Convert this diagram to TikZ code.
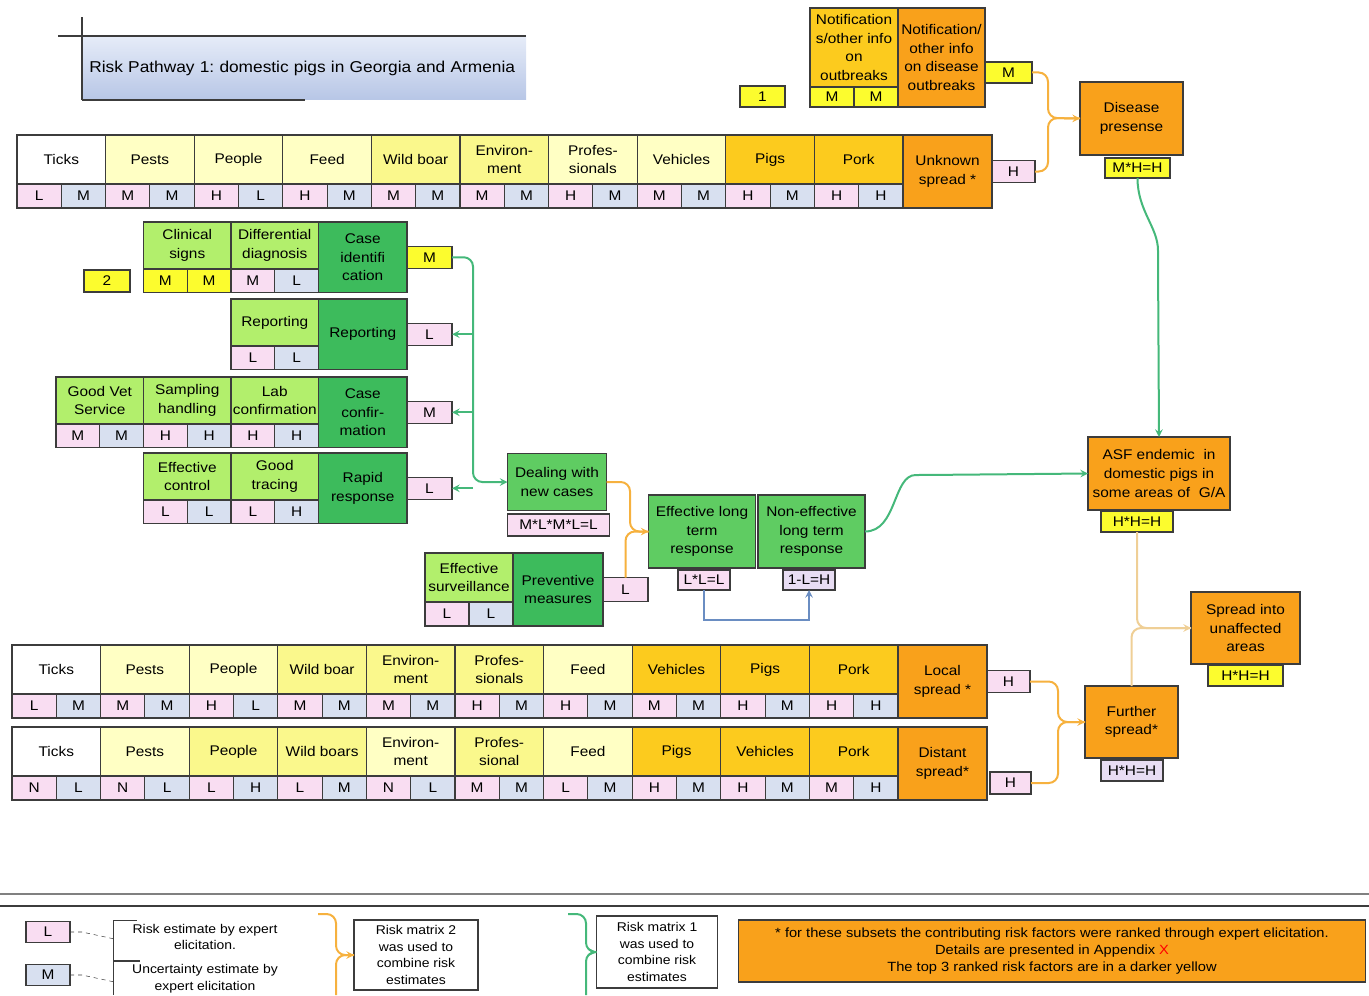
\documentclass[tikz,border=0pt]{standalone}
\usepackage{fontspec}
\setmainfont{Liberation Sans}[FakeStretch=1.1]
\usetikzlibrary{positioning,arrows.meta}
\frenchspacing

\definecolor{edge}{HTML}{3C3C3C}
\definecolor{paleyel}{HTML}{FFFFC4}
\definecolor{midyel}{HTML}{FAF88C}
\definecolor{goldyel}{HTML}{FCCB1E}
\definecolor{sorange}{HTML}{F9A11B}
\definecolor{brightyel}{HTML}{FCFC2E}
\definecolor{riskpink}{HTML}{F9DDF2}
\definecolor{uncblue}{HTML}{D8E0F0}
\definecolor{lavender}{HTML}{E8DDF3}
\definecolor{lightgrn}{HTML}{B2EF6C}
\definecolor{darkgrn}{HTML}{3DBB5C}
\definecolor{midgrn}{HTML}{5FCC62}
\definecolor{arrorng}{HTML}{F6B13E}
\definecolor{arrtan}{HTML}{EFCF96}
\definecolor{arrgrn}{HTML}{45B87A}
\definecolor{arrblue}{HTML}{6A8DC2}
\definecolor{titletop}{HTML}{E6ECF8}
\definecolor{titlebot}{HTML}{B7C6E6}

\begin{document}
\begin{tikzpicture}[
  x=0.75pt, y=-0.75pt,
  every node/.style={draw=edge, line width=0.8pt, outer sep=0pt, inner sep=1pt, align=center, font=\fontsize{10.5}{14}\selectfont},
  sized/.style 2 args={minimum width=#1*0.75pt, minimum height=#2*0.75pt},
  factor/.style={sized={88.6}{49}},
  risk/.style={sized={44.3}{24}, fill=riskpink},
  unc/.style={sized={44.3}{24}, fill=uncblue},
  subset/.style={sized={89}{73}, fill=sorange},
  est/.style={sized={43}{22}},
  glbl/.style={sized={87.5}{47}, fill=lightgrn},
  gval/.style={sized={43.75}{23.5}},
  gstep/.style={sized={88.5}{70.5}, fill=darkgrn},
  key/.style={draw=none, font=\fontsize{9.5}{12.5}\selectfont},
  conn/.style={line width=1.5pt, rounded corners=7pt},
  arrow/.style={->, >=stealth},
  orngline/.style={conn, draw=arrorng},
  tanline/.style={conn, draw=arrtan},
  grnline/.style={conn, draw=arrgrn},
  bluline/.style={conn, draw=arrblue, rounded corners=0pt}
]
\useasboundingbox (0,0) rectangle (1369,995);

% Title banner
\node[draw=none, sized={444}{64}, top color=titletop, bottom color=titlebot, anchor=north west, text width=322pt, align=left, font=\fontsize{11.8}{14}\selectfont] (title) at (82,36) {Risk Pathway 1: domestic pigs in Georgia and Armenia};
\draw[edge, line width=0.8pt] ([xshift=-18pt]title.north west) -- (title.north east);
\draw[edge, line width=0.8pt] ([yshift=14pt]title.north west) -- (title.south west);
\draw[edge, line width=1.2pt] (title.south west) -- ([xshift=167pt]title.south west);

% Notification of outbreaks
\node[est, sized={45}{21}, fill=brightyel] (one) at (762.5,96.5) {1};
\node[sized={88}{79}, fill=goldyel, anchor=north west] (ntf) at (810,8) {Notification\\s/other info\\on\\outbreaks};
\node[gval, sized={44}{20}, fill=brightyel, anchor=north west] (ntfa) at (ntf.south west) {M};
\node[gval, sized={44}{20}, fill=brightyel, right=0pt of ntfa] (ntfb) {M};
\node[sized={87}{99}, fill=sorange, anchor=north west] (ntfo) at (ntf.north east) {Notification/\\other info\\on disease\\outbreaks};
\node[est, sized={47}{21}, fill=brightyel] (ntfE) at (1008.5,72.5) {M};

% Unknown spread
\node[factor, fill=white, anchor=north west] (u1) at (17,135) {Ticks};
\node[factor, fill=paleyel, right=0pt of u1] (u2) {Pests};
\node[factor, fill=paleyel, right=0pt of u2] (u3) {People};
\node[factor, fill=paleyel, right=0pt of u3] (u4) {Feed};
\node[factor, fill=midyel, right=0pt of u4] (u5) {Wild boar};
\node[factor, fill=midyel, right=0pt of u5] (u6) {Environ-\\ment};
\node[factor, fill=paleyel, right=0pt of u6] (u7) {Profes-\\sionals};
\node[factor, fill=paleyel, right=0pt of u7] (u8) {Vehicles};
\node[factor, fill=goldyel, right=0pt of u8] (u9) {Pigs};
\node[factor, fill=goldyel, right=0pt of u9] (u10) {Pork};
\node[risk, anchor=north west] (u1r) at (u1.south west) {L};
\node[unc, right=0pt of u1r] (u1u) {M};
\node[risk, right=0pt of u1u] (u2r) {M};
\node[unc, right=0pt of u2r] (u2u) {M};
\node[risk, right=0pt of u2u] (u3r) {H};
\node[unc, right=0pt of u3r] (u3u) {L};
\node[risk, right=0pt of u3u] (u4r) {H};
\node[unc, right=0pt of u4r] (u4u) {M};
\node[risk, right=0pt of u4u] (u5r) {M};
\node[unc, right=0pt of u5r] (u5u) {M};
\node[risk, right=0pt of u5u] (u6r) {M};
\node[unc, right=0pt of u6r] (u6u) {M};
\node[risk, right=0pt of u6u] (u7r) {H};
\node[unc, right=0pt of u7r] (u7u) {M};
\node[risk, right=0pt of u7u] (u8r) {M};
\node[unc, right=0pt of u8r] (u8u) {M};
\node[risk, right=0pt of u8u] (u9r) {H};
\node[unc, right=0pt of u9r] (u9u) {M};
\node[risk, right=0pt of u9u] (u10r) {H};
\node[unc, right=0pt of u10r] (u10u) {H};
\node[subset, anchor=north west] (unk) at (u10.north east) {Unknown\\spread *};
\node[est, fill=riskpink, right=0pt of unk] (unkH) {H};

% Disease presence
\node[sized={103}{73}, fill=sorange] (dis) at (1131.5,118.5) {Disease\\presense};
\node[est, sized={65}{20}, fill=brightyel] (disE) at (1137.5,168) {M*H=H};

% Dealing with new cases
\node[est, sized={46}{22}, fill=brightyel] (two) at (107,281) {2};
\node[gstep, anchor=north west] (cid) at (318.5,222) {Case\\identifi\\cation};
\node[glbl, anchor=north east] (dd) at (cid.north west) {Differential\\diagnosis};
\node[glbl, anchor=north east] (cs) at (dd.north west) {Clinical\\signs};
\node[gval, fill=brightyel, anchor=north west] (csa) at (cs.south west) {M};
\node[gval, fill=brightyel, right=0pt of csa] (csb) {M};
\node[gval, fill=riskpink, right=0pt of csb] (dda) {M};
\node[gval, fill=uncblue, right=0pt of dda] (ddb) {L};
\node[est, sized={45}{22}, fill=brightyel, right=0pt of cid] (cidE) {M};

\node[gstep, anchor=north west] (rep) at (318.5,299) {Reporting};
\node[glbl, anchor=north east] (rpf) at (rep.north west) {Reporting};
\node[gval, fill=riskpink, anchor=north west] (rpfa) at (rpf.south west) {L};
\node[gval, fill=uncblue, right=0pt of rpfa] (rpfb) {L};
\node[est, sized={45}{22}, fill=riskpink, right=0pt of rep] (repE) {L};

\node[gstep, anchor=north west] (ccf) at (318.5,377) {Case\\confir-\\mation};
\node[glbl, anchor=north east] (lab) at (ccf.north west) {Lab\\confirmation};
\node[glbl, anchor=north east] (smp) at (lab.north west) {Sampling\\handling};
\node[glbl, anchor=north east] (gvs) at (smp.north west) {Good Vet\\Service};
\node[gval, fill=riskpink, anchor=north west] (gvsa) at (gvs.south west) {M};
\node[gval, fill=uncblue, right=0pt of gvsa] (gvsb) {M};
\node[gval, fill=riskpink, right=0pt of gvsb] (smpa) {H};
\node[gval, fill=uncblue, right=0pt of smpa] (smpb) {H};
\node[gval, fill=riskpink, right=0pt of smpb] (laba) {H};
\node[gval, fill=uncblue, right=0pt of laba] (labb) {H};
\node[est, sized={45}{22}, fill=riskpink, right=0pt of ccf] (ccfE) {M};

\node[gstep, anchor=north west] (rr) at (318.5,453) {Rapid\\response};
\node[glbl, anchor=north east] (gtr) at (rr.north west) {Good\\tracing};
\node[glbl, anchor=north east] (ect) at (gtr.north west) {Effective\\control};
\node[gval, fill=riskpink, anchor=north west] (ecta) at (ect.south west) {L};
\node[gval, fill=uncblue, right=0pt of ecta] (ectb) {L};
\node[gval, fill=riskpink, right=0pt of ectb] (gtra) {L};
\node[gval, fill=uncblue, right=0pt of gtra] (gtrb) {H};
\node[est, sized={45}{22}, fill=riskpink, right=0pt of rr] (rrE) {L};

\node[sized={99}{57}, fill=midgrn] (dl) at (557,482) {Dealing with\\new cases};
\node[est, sized={102}{22}, fill=riskpink] (dlE) at (558.5,525) {M*L*M*L=L};

% Preventive measures
\node[gstep, sized={90}{73}, anchor=north west] (prev) at (513,553) {Preventive\\measures};
\node[glbl, sized={88}{49}, anchor=north east] (esv) at (prev.north west) {Effective\\surveillance};
\node[gval, sized={44}{24}, fill=riskpink, anchor=north west] (esva) at (esv.south west) {L};
\node[gval, sized={44}{24}, fill=uncblue, right=0pt of esva] (esvb) {L};
\node[est, sized={45}{24}, fill=riskpink, right=0pt of prev] (prevE) {L};

% Long term response
\node[sized={107}{73}, fill=midgrn] (elt) at (702,531.5) {Effective long\\term\\response};
\node[sized={107}{73}, fill=midgrn] (nelt) at (811.5,531.5) {Non-effective\\long term\\response};
\node[est, sized={52}{20}, fill=riskpink] (eltE) at (704,580) {L*L=L};
\node[est, sized={52}{20}, fill=lavender] (neltE) at (809,580) {1-L=H};

% Endemic and further spread
\node[sized={142}{73}, fill=sorange] (asf) at (1159,473.5) {ASF endemic\ \ in\\domestic pigs in\\some areas of\ \ G/A};
\node[est, sized={72}{21}, fill=brightyel] (asfE) at (1137,521.5) {H*H=H};
\node[sized={109}{72}, fill=sorange] (spr) at (1245.5,628) {Spread into\\unaffected\\areas};
\node[est, sized={75}{21}, fill=brightyel] (sprE) at (1245.5,675.5) {H*H=H};
\node[sized={93}{72}, fill=sorange] (fur) at (1131.5,722) {Further\\spread*};
\node[est, sized={62}{21}, fill=lavender] (furE) at (1132,770.5) {H*H=H};

% Local spread
\node[factor, fill=white, anchor=north west] (l1) at (12,645) {Ticks};
\node[factor, fill=paleyel, right=0pt of l1] (l2) {Pests};
\node[factor, fill=paleyel, right=0pt of l2] (l3) {People};
\node[factor, fill=midyel, right=0pt of l3] (l4) {Wild boar};
\node[factor, fill=midyel, right=0pt of l4] (l5) {Environ-\\ment};
\node[factor, fill=midyel, right=0pt of l5] (l6) {Profes-\\sionals};
\node[factor, fill=paleyel, right=0pt of l6] (l7) {Feed};
\node[factor, fill=goldyel, right=0pt of l7] (l8) {Vehicles};
\node[factor, fill=goldyel, right=0pt of l8] (l9) {Pigs};
\node[factor, fill=goldyel, right=0pt of l9] (l10) {Pork};
\node[risk, anchor=north west] (l1r) at (l1.south west) {L};
\node[unc, right=0pt of l1r] (l1u) {M};
\node[risk, right=0pt of l1u] (l2r) {M};
\node[unc, right=0pt of l2r] (l2u) {M};
\node[risk, right=0pt of l2u] (l3r) {H};
\node[unc, right=0pt of l3r] (l3u) {L};
\node[risk, right=0pt of l3u] (l4r) {M};
\node[unc, right=0pt of l4r] (l4u) {M};
\node[risk, right=0pt of l4u] (l5r) {M};
\node[unc, right=0pt of l5r] (l5u) {M};
\node[risk, right=0pt of l5u] (l6r) {H};
\node[unc, right=0pt of l6r] (l6u) {M};
\node[risk, right=0pt of l6u] (l7r) {H};
\node[unc, right=0pt of l7r] (l7u) {M};
\node[risk, right=0pt of l7u] (l8r) {M};
\node[unc, right=0pt of l8r] (l8u) {M};
\node[risk, right=0pt of l8u] (l9r) {H};
\node[unc, right=0pt of l9r] (l9u) {M};
\node[risk, right=0pt of l9u] (l10r) {H};
\node[unc, right=0pt of l10r] (l10u) {H};
\node[subset, anchor=north west] (loc) at (l10.north east) {Local\\spread *};
\node[est, fill=riskpink, right=0pt of loc] (locH) {H};

% Distant spread
\node[factor, fill=white, anchor=north west] (d1) at (12,727) {Ticks};
\node[factor, fill=paleyel, right=0pt of d1] (d2) {Pests};
\node[factor, fill=midyel, right=0pt of d2] (d3) {People};
\node[factor, fill=midyel, right=0pt of d3] (d4) {Wild boars};
\node[factor, fill=paleyel, right=0pt of d4] (d5) {Environ-\\ment};
\node[factor, fill=midyel, right=0pt of d5] (d6) {Profes-\\sional};
\node[factor, fill=paleyel, right=0pt of d6] (d7) {Feed};
\node[factor, fill=goldyel, right=0pt of d7] (d8) {Pigs};
\node[factor, fill=goldyel, right=0pt of d8] (d9) {Vehicles};
\node[factor, fill=goldyel, right=0pt of d9] (d10) {Pork};
\node[risk, anchor=north west] (d1r) at (d1.south west) {N};
\node[unc, right=0pt of d1r] (d1u) {L};
\node[risk, right=0pt of d1u] (d2r) {N};
\node[unc, right=0pt of d2r] (d2u) {L};
\node[risk, right=0pt of d2u] (d3r) {L};
\node[unc, right=0pt of d3r] (d3u) {H};
\node[risk, right=0pt of d3u] (d4r) {L};
\node[unc, right=0pt of d4r] (d4u) {M};
\node[risk, right=0pt of d4u] (d5r) {N};
\node[unc, right=0pt of d5r] (d5u) {L};
\node[risk, right=0pt of d5u] (d6r) {M};
\node[unc, right=0pt of d6r] (d6u) {M};
\node[risk, right=0pt of d6u] (d7r) {L};
\node[unc, right=0pt of d7r] (d7u) {M};
\node[risk, right=0pt of d7u] (d8r) {H};
\node[unc, right=0pt of d8r] (d8u) {M};
\node[risk, right=0pt of d8u] (d9r) {H};
\node[unc, right=0pt of d9r] (d9u) {M};
\node[risk, right=0pt of d9u] (d10r) {M};
\node[unc, right=0pt of d10r] (d10u) {H};
\node[subset, anchor=north west] (dst) at (d10.north east) {Distant\\spread*};
\node[est, sized={41}{22}, fill=riskpink] (dstH) at (1010.5,783) {H};

% Combining estimates (risk matrix 2)
\coordinate (jDis) at (1048,118);
\draw[orngline] (ntfE.east) -| (jDis) -- (dis.west);
\draw[orngline, arrow] (unkH.east) -| (jDis) -- (dis.west);
\coordinate (jElt) at (630,531.5);
\draw[orngline] (dl.east) -| (jElt) -- (elt.west);
\draw[orngline, arrow] (prevE.north) |- (elt.west);
\coordinate (jFur) at (1058,722);
\draw[orngline] (locH.east) -| (jFur) -- (fur.west);
\draw[orngline, arrow] (dstH.east) -| (jFur) -- (fur.west);
\draw[tanline] (asfE.south) |- (spr.west);
\draw[tanline, arrow] (fur.north) |- (spr.west);

% Combining estimates (risk matrix 1)
\coordinate (gbar) at (473,0);
\draw[grnline, arrow] (cidE.east) -| (gbar |- dl.west) -- (dl.west);
\draw[grnline, arrow] (gbar |- repE.east) -- (repE.east);
\draw[grnline, arrow] (gbar |- ccfE.east) -- (ccfE.east);
\draw[grnline, arrow] (gbar |- rrE.east) -- (rrE.east);
\draw[grnline, arrow] (disE.south) to[out=-90, in=90] (1158,260) -- (asf.north);
\draw[grnline, arrow] (nelt.east) to[out=0, in=180] (925,475) -- (asf.west);
\draw[bluline, arrow] (eltE.south) -- ++(0,30) -| (neltE.south);

% Key
\draw[gray, line width=1pt] (0,894) -- (1369,894);
\draw[edge, line width=1.2pt] (0,906) -- (1369,906);
\node[est, sized={44}{21}, fill=riskpink] (keyL) at (48,932) {L};
\node[est, sized={44}{21}, fill=uncblue] (keyM) at (48,975) {M};
\node[key] (keyLt) at (205,937) {Risk estimate by expert\\elicitation.};
\node[key] (keyMt) at (205,979) {Uncertainty estimate by\\expert elicitation};
\coordinate (kb) at (113,0);
\draw[edge] (kb |- 0,920) -- (kb |- 0,995);
\draw[edge] (kb |- 0,920) -- (137,920);
\draw[edge, line width=1.2pt] (kb |- 0,961) -- (140,961);
\draw[edge, dashed] (keyL.east) -- ++(12,0) -- ([yshift=-5pt]keyL.east -| kb);
\draw[edge, dashed] (keyM.east) -- ++(12,0) -- ([yshift=-5pt]keyM.east -| kb);

\node[key, draw=edge, sized={124}{70}, fill=white] (rm2) at (416,955) {Risk matrix 2\\was used to\\combine risk\\estimates};
\node[key, draw=edge, sized={121}{72}, fill=white] (rm1) at (657,952) {Risk matrix 1\\was used to\\combine risk\\estimates};
\coordinate (k2top) at (318,914);
\coordinate (k2bot) at (336,995);
\draw[orngline, arrow] (k2top) -| (k2bot |- rm2.west) -- (rm2.west);
\draw[orngline] (k2bot) -- (k2bot |- rm2.west) -- (rm2.west);
\coordinate (k1top) at (568,914);
\coordinate (k1bot) at (586,995);
\draw[grnline, arrow] (k1top) -| (k1bot |- rm1.west) -- (rm1.west);
\draw[grnline] (k1bot) -- (k1bot |- rm1.west) -- (rm1.west);

\node[key, draw=edge, sized={627}{62}, fill=sorange, font=\fontsize{10}{12.5}\selectfont] (note) at (1052,951) {* for these subsets the contributing risk factors were ranked through expert elicitation.\\Details are presented in Appendix \textcolor{red}{X}\\The top 3 ranked risk factors are in a darker yellow};

\end{tikzpicture}
\end{document}
